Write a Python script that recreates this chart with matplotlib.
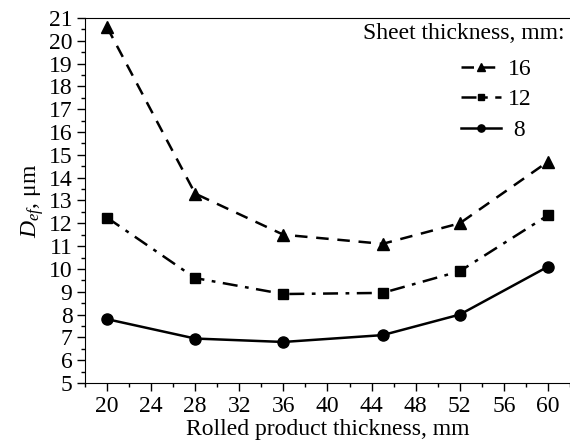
import matplotlib.pyplot as plt
from matplotlib.ticker import MultipleLocator

plt.rcParams['font.family'] = ['Liberation Serif', 'DejaVu Serif']
plt.rcParams['mathtext.fontset'] = 'custom'
plt.rcParams['mathtext.it'] = 'Liberation Serif:italic'
plt.rcParams['mathtext.rm'] = 'Liberation Serif'

# rolled product thickness, mm
thickness = [20, 28, 36, 45, 52, 60]
# effective grain size, um, per sheet thickness
d_16 = [20.6, 13.3, 11.5, 11.1, 12.0, 14.7]
d_12 = [12.25, 9.6, 8.9, 8.95, 9.9, 12.35]
d_8 = [7.8, 6.95, 6.8, 7.1, 8.0, 10.1]
labels = ['16', '12', ' 8']

fig = plt.figure(figsize=(5.7, 4.48), dpi=100)
ax = fig.add_axes([0.149, 0.145, 0.851, 0.815])

ax.plot(thickness, d_16, color='black', lw=1.8, ls=(0, (5, 3.5)),
        marker='^', ms=8, label=labels[0])
ax.plot(thickness, d_12, color='black', lw=1.8, ls=(0, (6, 3, 1.5, 3)),
        marker='s', ms=7, label=labels[1])
ax.plot(thickness, d_8, color='black', lw=1.8, ls='-',
        marker='o', ms=8, label=labels[2])

ax.set_xlim(18, 62)
ax.set_ylim(5, 21)
ax.xaxis.set_major_locator(MultipleLocator(4))
ax.xaxis.set_minor_locator(MultipleLocator(2))
ax.yaxis.set_major_locator(MultipleLocator(1))
ax.yaxis.set_minor_locator(MultipleLocator(0.5))
ax.tick_params(which='both', direction='out', labelsize=17, width=1)
ax.tick_params(which='major', length=6, pad=3)
ax.tick_params(which='minor', length=3)
ax.spines['right'].set_visible(False)

ax.set_xlabel('Rolled product thickness, mm', fontsize=17, labelpad=2)
ax.set_ylabel(r'$D_{ef}$, μm', fontsize=17, labelpad=2)

ax.text(0.988, 0.985, 'Sheet thickness, mm:', transform=ax.transAxes,
        ha='right', va='top', fontsize=17)
ax.legend(loc='upper right', bbox_to_anchor=(0.94, 0.915), frameon=False,
          fontsize=17, handlelength=1.7, handletextpad=0.3,
          markerscale=0.65, labelspacing=0.38, borderaxespad=0)

fig.savefig('out.png', dpi=100)
